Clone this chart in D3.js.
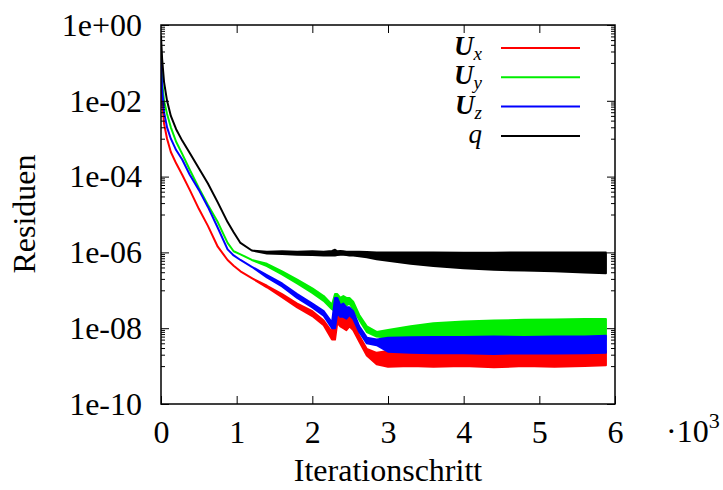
<!DOCTYPE html>
<html>
<head>
<meta charset="utf-8">
<script src="https://cdn.jsdelivr.net/npm/d3@7"></script>
<style>
  body { margin: 0; background: #fff; }
  svg { display: block; }
</style>
</head>
<body>
<div id="chart"></div>
<script>
// iteration grid shared by all residual curves
const iterations = [0, 15, 40, 80, 130, 200, 280, 380, 500, 620, 750, 880, 960, 1050, 1200, 1400, 1600, 1800, 2000, 2150,
  2260, 2300, 2330, 2370, 2410, 2450, 2490, 2540, 2620, 2720, 2850, 3000, 3300, 3600, 4000, 4400, 4800, 5200, 5600, 5880];

// log10 of the residuals: upper and lower edge of the oscillating band
const uxUpper = [-1.0, -2.0, -2.6, -3.0, -3.35, -3.65, -3.95, -4.35, -4.85, -5.3, -5.85, -6.2, -6.35, -6.5, -6.68, -6.88, -7.1, -7.35, -7.55, -7.8,
  -8.1, -7.45, -7.45, -7.6, -7.55, -7.7, -7.7, -7.8, -8.2, -8.55, -8.65, -8.6, -8.6, -8.6, -8.6, -8.6, -8.6, -8.6, -8.6, -8.6];
const uxLower = [-1.0, -2.0, -2.6, -3.0, -3.35, -3.65, -3.95, -4.35, -4.85, -5.3, -5.85, -6.2, -6.35, -6.5, -6.68, -6.92, -7.18, -7.45, -7.68, -7.92,
  -8.3, -8.3, -7.85, -7.95, -8.0, -8.05, -7.95, -8.05, -8.35, -8.72, -8.95, -9.02, -9.0, -9.02, -9.0, -9.03, -9.0, -9.02, -9.0, -8.98];

const uyUpper = [-0.85, -1.5, -2.0, -2.35, -2.7, -3.08, -3.4, -3.82, -4.3, -4.75, -5.2, -5.75, -5.97, -6.05, -6.2, -6.3, -6.5, -6.72, -6.95, -7.15,
  -7.38, -7.1, -7.1, -7.2, -7.15, -7.2, -7.2, -7.3, -7.65, -7.95, -8.1, -8.05, -7.95, -7.87, -7.82, -7.8, -7.78, -7.77, -7.76, -7.76];
const uyLower = [-0.85, -1.5, -2.0, -2.35, -2.7, -3.08, -3.4, -3.82, -4.3, -4.75, -5.2, -5.75, -5.97, -6.05, -6.2, -6.36, -6.58, -6.82, -7.07, -7.28,
  -7.5, -7.55, -7.35, -7.4, -7.45, -7.4, -7.35, -7.5, -7.78, -8.1, -8.22, -8.25, -8.28, -8.3, -8.3, -8.3, -8.3, -8.3, -8.3, -8.3];

const uzUpper = [-0.9, -1.7, -2.3, -2.7, -3.0, -3.3, -3.55, -3.95, -4.35, -4.8, -5.35, -5.92, -6.08, -6.2, -6.38, -6.6, -6.82, -7.1, -7.35, -7.55,
  -7.85, -7.2, -7.2, -7.4, -7.35, -7.45, -7.45, -7.55, -7.95, -8.25, -8.3, -8.25, -8.24, -8.23, -8.23, -8.22, -8.23, -8.22, -8.22, -8.2];
const uzLower = [-0.9, -1.7, -2.3, -2.7, -3.0, -3.3, -3.55, -3.95, -4.35, -4.8, -5.35, -5.92, -6.08, -6.2, -6.38, -6.66, -6.9, -7.2, -7.45, -7.67,
  -8.0, -8.0, -7.6, -7.7, -7.7, -7.75, -7.65, -7.75, -8.1, -8.4, -8.45, -8.62, -8.65, -8.66, -8.66, -8.68, -8.66, -8.67, -8.66, -8.65];

const qUpper = [-0.3, -0.9, -1.5, -2.0, -2.4, -2.75, -3.05, -3.38, -3.78, -4.18, -4.68, -5.2, -5.47, -5.75, -5.95, -5.98, -5.97, -5.98, -5.97, -5.98,
  -5.96, -5.93, -5.97, -5.96, -5.97, -5.98, -5.98, -5.98, -5.98, -5.99, -6.0, -6.0, -6.0, -6.0, -6.01, -6.01, -6.0, -6.0, -6.0, -6.0];
const qLower = [-0.3, -0.9, -1.5, -2.0, -2.4, -2.75, -3.05, -3.38, -3.78, -4.18, -4.68, -5.2, -5.47, -5.75, -5.95, -6.03, -6.04, -6.06, -6.07, -6.08,
  -6.08, -6.08, -6.07, -6.06, -6.06, -6.07, -6.08, -6.08, -6.1, -6.13, -6.18, -6.22, -6.3, -6.36, -6.42, -6.46, -6.48, -6.5, -6.53, -6.55];

const seriesNames = ["Ux", "Uy", "Uz", "q"];
const seriesColors = ["#ff0000", "#00ee00", "#0000ff", "#000000"];

const xTickValues = [0, 1000, 2000, 3000, 4000, 5000, 6000];
const xTickLabels = ["0", "1", "2", "3", "4", "5", "6"];
const yTickValues = [1, 1e-2, 1e-4, 1e-6, 1e-8, 1e-10];
const yTickLabels = ["1e+00", "1e-02", "1e-04", "1e-06", "1e-08", "1e-10"];

const W = 723, H = 490;
const m = {left: 161, right: 615, top: 25, bottom: 404};
const font = "'Liberation Serif', 'DejaVu Serif', serif";
const fs = 32;

const svg = d3.select("#chart").append("svg")
  .attr("width", W)
  .attr("height", H);

const x = d3.scaleLinear().domain([0, 6000]).range([m.left, m.right]);
const y = d3.scaleLog().domain([1e-10, 1]).range([m.bottom, m.top]);

// minor ticks: 10..90 steps inside each two-decade span
const yMinor = [];
for (let j = 0; j < 5; j++) {
  for (let k = 1; k <= 9; k++) yMinor.push(k * Math.pow(10, -2 * j - 1));
}

svg.append("clipPath").attr("id", "plotclip")
  .append("rect")
  .attr("x", m.left).attr("y", m.top)
  .attr("width", m.right - m.left).attr("height", m.bottom - m.top);

const uppers = [uxUpper, uyUpper, uzUpper, qUpper];
const lowers = [uxLower, uyLower, uzLower, qLower];

const area = d3.area()
  .x(d => x(d.it))
  .y0(d => y(Math.pow(10, d.lo)))
  .y1(d => y(Math.pow(10, d.hi)));

const plot = svg.append("g").attr("clip-path", "url(#plotclip)");
seriesNames.forEach((name, s) => {
  const pts = iterations.map((it, i) => ({it: it, hi: uppers[s][i], lo: lowers[s][i]}));
  plot.append("path")
    .datum(pts)
    .attr("d", area)
    .attr("fill", seriesColors[s])
    .attr("stroke", seriesColors[s])
    .attr("stroke-width", 2)
    .attr("stroke-linejoin", "round");
});

// axes
function styleAxis(g) {
  g.select(".domain").remove();
  g.selectAll(".tick line").attr("stroke", "#000").attr("stroke-width", 1);
  g.attr("font-family", font).attr("font-size", fs);
  g.selectAll("text").attr("fill", "#000");
}

svg.append("g")
  .attr("transform", `translate(${m.left},0)`)
  .call(d3.axisLeft(y).tickValues(yTickValues).tickSize(-8).tickPadding(19)
    .tickFormat((d, i) => yTickLabels[i]))
  .call(styleAxis);

svg.append("g")
  .attr("transform", `translate(${m.left},0)`)
  .call(d3.axisLeft(y).tickValues(yMinor).tickSize(-4).tickFormat(""))
  .call(styleAxis);

svg.append("g")
  .attr("transform", `translate(${m.right},0)`)
  .call(d3.axisRight(y).tickValues(yTickValues).tickSize(-8).tickFormat(""))
  .call(styleAxis);

svg.append("g")
  .attr("transform", `translate(${m.right},0)`)
  .call(d3.axisRight(y).tickValues(yMinor).tickSize(-4).tickFormat(""))
  .call(styleAxis);

svg.append("g")
  .attr("transform", `translate(0,${m.bottom})`)
  .call(d3.axisBottom(x).tickValues(xTickValues).tickSize(-8).tickPadding(16)
    .tickFormat((d, i) => xTickLabels[i]))
  .call(styleAxis);

svg.append("g")
  .attr("transform", `translate(0,${m.top})`)
  .call(d3.axisTop(x).tickValues(xTickValues.slice(1, -1)).tickSize(-8).tickFormat(""))
  .call(styleAxis);

svg.append("rect")
  .attr("x", m.left).attr("y", m.top)
  .attr("width", m.right - m.left).attr("height", m.bottom - m.top)
  .attr("fill", "none")
  .attr("stroke", "#000")
  .attr("stroke-width", 1.5);

// scale factor next to the x axis
const mult = svg.append("text")
  .attr("x", 666).attr("y", 442)
  .attr("font-family", font).attr("font-size", fs);
mult.append("tspan").text("·10");
mult.append("tspan").attr("font-size", 22).attr("dy", -14).text("3");

// axis titles
svg.append("text")
  .attr("x", (m.left + m.right) / 2).attr("y", 481)
  .attr("text-anchor", "middle")
  .attr("font-family", font).attr("font-size", fs)
  .text("Iterationschritt");

svg.append("text")
  .attr("transform", "translate(35,214) rotate(-90)")
  .attr("text-anchor", "middle")
  .attr("font-family", font).attr("font-size", fs)
  .text("Residuen");

// legend
const legend = svg.append("g");
const subs = ["x", "y", "z", null];
seriesNames.forEach((name, i) => {
  const ly = 48 + i * 29.3;
  const t = legend.append("text")
    .attr("x", 482).attr("y", ly + 7)
    .attr("text-anchor", "end")
    .attr("font-family", font).attr("font-style", "italic");
  if (subs[i]) {
    t.append("tspan").attr("font-weight", "bold").attr("font-size", 27).text("U");
    t.append("tspan").attr("font-size", 19).attr("dy", 5).text(subs[i]);
  } else {
    t.append("tspan").attr("font-size", 27).text("q");
  }
  legend.append("line")
    .attr("x1", 501).attr("x2", 580)
    .attr("y1", ly).attr("y2", ly)
    .attr("stroke", seriesColors[i])
    .attr("stroke-width", 2);
});
</script>
</body>
</html>
